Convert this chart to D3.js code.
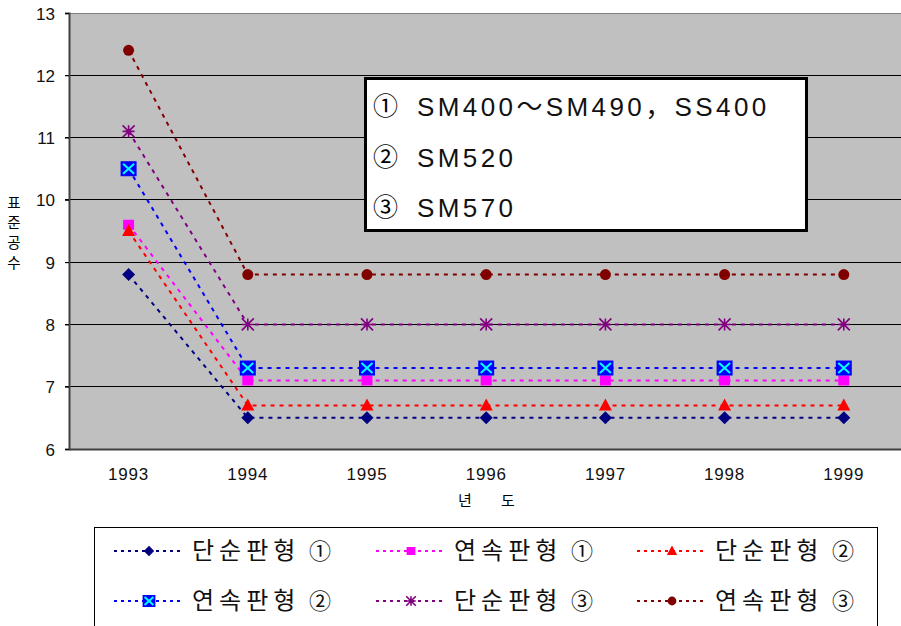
<!DOCTYPE html>
<html>
<head>
<meta charset="utf-8">
<script src="https://cdn.jsdelivr.net/npm/d3@7"></script>
<style>
  html, body { margin: 0; padding: 0; background: #fff; }
  svg { display: block; }
  text { font-family: "Liberation Sans", "Noto Sans CJK KR", sans-serif; }
  .kr { font-family: "Noto Sans CJK KR", sans-serif; }
</style>
</head>
<body>
<svg id="chart" width="901" height="626"></svg>
<script>
// Years on the horizontal axis
const years = ["1993", "1994", "1995", "1996", "1997", "1998", "1999"];
// Y axis tick values
const yTicks = [6, 7, 8, 9, 10, 11, 12, 13];

// Standard man-hours by plate type and steel grade
const seriesNames = ["단순판형", "연속판형", "단순판형", "연속판형", "단순판형", "연속판형"];
const seriesGrades = ["①", "①", "②", "②", "③", "③"];
const simple1 = [8.8, 6.5, 6.5, 6.5, 6.5, 6.5, 6.5];
const cont1   = [9.6, 7.1, 7.1, 7.1, 7.1, 7.1, 7.1];
const simple2 = [9.5, 6.7, 6.7, 6.7, 6.7, 6.7, 6.7];
const cont2   = [10.5, 7.3, 7.3, 7.3, 7.3, 7.3, 7.3];
const simple3 = [11.1, 8.0, 8.0, 8.0, 8.0, 8.0, 8.0];
const cont3   = [12.4, 8.8, 8.8, 8.8, 8.8, 8.8, 8.8];

// Steel grade notes
const gradeMarks = ["①", "②", "③"];
const gradeNotes = ["SM400～SM490，SS400", "SM520", "SM570"];

const seriesValues = [simple1, cont1, simple2, cont2, simple3, cont3];
const styles = [
  { color: "#000080", marker: "diamond" },
  { color: "#FF00FF", marker: "square" },
  { color: "#FF0000", marker: "triangle" },
  { color: "#0000FF", marker: "xsquare" },
  { color: "#800080", marker: "asterisk" },
  { color: "#800000", marker: "circle" }
];

const svg = d3.select("#chart");
const plot = { left: 69, top: 13, bottom: 449, band: 119.2 };
plot.right = plot.left + plot.band * years.length;

const x = d3.scaleBand().domain(years).range([plot.left, plot.right]).padding(0);
const cx = d => x(d) + x.bandwidth() / 2;
const y = d3.scaleLinear().domain([6, 13]).range([plot.bottom, plot.top]);

// Plot background
svg.append("rect")
  .attr("x", plot.left).attr("y", plot.top)
  .attr("width", 901 - plot.left).attr("height", plot.bottom - plot.top)
  .attr("fill", "#C0C0C0");

// Horizontal gridlines
svg.append("g").selectAll("line").data(yTicks.slice(1)).join("line")
  .attr("x1", plot.left - 4).attr("x2", 901)
  .attr("y1", d => y(d)).attr("y2", d => y(d))
  .attr("stroke", d => d === 13 ? "#808080" : "#000").attr("stroke-width", 1)
  .attr("shape-rendering", "crispEdges");

// Y axis
const yAxis = svg.append("g")
  .attr("transform", `translate(${plot.left},0)`)
  .call(d3.axisLeft(y).tickValues(yTicks).tickSize(4).tickPadding(10).tickFormat(d3.format("d")));
yAxis.select(".domain").attr("stroke", "#404040").attr("stroke-width", 2);
yAxis.selectAll(".tick line").attr("stroke", "#000");
yAxis.selectAll(".tick text").attr("font-size", 17).attr("fill", "#111")
  .attr("dy", "0.36em")
  .style("font-family", "'Liberation Sans', sans-serif");

// X axis
const xAxis = svg.append("g")
  .attr("transform", `translate(0,${plot.bottom})`)
  .call(d3.axisBottom(x).tickSize(0).tickPadding(0));
xAxis.select(".domain").attr("stroke", "#404040").attr("stroke-width", 2);
xAxis.selectAll(".tick text").attr("font-size", 17).attr("fill", "#111")
  .attr("y", 31).attr("dy", 0).attr("letter-spacing", 0.8)
  .style("font-family", "'Liberation Sans', sans-serif");

// Axis titles
[["년", 465], ["도", 508]].forEach(([ch, px]) => {
  svg.append("text").attr("class", "kr")
    .attr("x", px).attr("y", 506).attr("text-anchor", "middle")
    .attr("font-size", 15).attr("fill", "#000").text(ch);
});
const yTitle = svg.append("text").attr("class", "kr")
  .attr("font-size", 14.5).attr("fill", "#000").attr("text-anchor", "middle");
["표", "준", "공", "수"].forEach((ch, i) => {
  yTitle.append("tspan").attr("x", 14).attr("y", 208 + i * 20).text(ch);
});

// Marker drawing
function drawMarker(g, type, color, px, py, s) {
  const k = s || 1;
  if (type === "diamond") {
    g.append("path")
      .attr("d", `M${px},${py - 6.5 * k}L${px + 6.5 * k},${py}L${px},${py + 6.5 * k}L${px - 6.5 * k},${py}Z`)
      .attr("fill", color);
  } else if (type === "square") {
    g.append("rect").attr("x", px - 5.5 * k).attr("y", py - 5 * k)
      .attr("width", 11 * k).attr("height", 10 * k).attr("fill", color);
  } else if (type === "triangle") {
    g.append("path")
      .attr("d", `M${px},${py - 7 * k}L${px + 6.5 * k},${py + 5 * k}L${px - 6.5 * k},${py + 5 * k}Z`)
      .attr("fill", color);
  } else if (type === "xsquare") {
    g.append("rect").attr("x", px - 8 * k).attr("y", py - 7.5 * k)
      .attr("width", 16 * k).attr("height", 15 * k).attr("fill", color);
    g.append("path")
      .attr("d", `M${px - 5.5 * k},${py - 5 * k}L${px + 5.5 * k},${py + 5 * k}M${px + 5.5 * k},${py - 5 * k}L${px - 5.5 * k},${py + 5 * k}`)
      .attr("stroke", "#00FFFF").attr("stroke-width", 2);
  } else if (type === "asterisk") {
    const r = 6 * k;
    g.append("path")
      .attr("d", `M${px - r},${py - r}L${px + r},${py + r}M${px + r},${py - r}L${px - r},${py + r}M${px},${py - r}L${px},${py + r}M${px - r},${py}L${px + r},${py}`)
      .attr("stroke", color).attr("stroke-width", 1.6);
  } else if (type === "circle") {
    g.append("circle").attr("cx", px).attr("cy", py).attr("r", 5.5 * k).attr("fill", color);
  }
}

// Series lines and markers
const line = d3.line().x((d, i) => cx(years[i])).y(d => y(d));
seriesValues.forEach((vals, si) => {
  const st = styles[si];
  const g = svg.append("g");
  g.append("path").datum(vals).attr("d", line)
    .attr("fill", "none").attr("stroke", st.color)
    .attr("stroke-width", 2).attr("stroke-dasharray", "4,5");
  vals.forEach((v, i) => drawMarker(g, st.marker, st.color, cx(years[i]), y(v)));
});

// Grade notes box
const nb = svg.append("g");
nb.append("rect").attr("x", 365.5).attr("y", 78.5).attr("width", 441).attr("height", 152)
  .attr("fill", "#fff").attr("stroke", "#000").attr("stroke-width", 3);
gradeNotes.forEach((t, i) => {
  const by = 116 + i * 50.5;
  nb.append("text").attr("class", "kr")
    .attr("x", 373).attr("y", by - 1).attr("font-size", 25).attr("fill", "#000")
    .text(gradeMarks[i]);
  nb.append("text")
    .attr("x", 417).attr("y", by).attr("font-size", 26).attr("fill", "#111")
    .attr("letter-spacing", 3.4)
    .text(t);
});

// Legend
const lg = svg.append("g");
lg.append("rect").attr("x", 94.5).attr("y", 527.5).attr("width", 783).attr("height", 110)
  .attr("fill", "#fff").attr("stroke", "#000").attr("stroke-width", 1);
const colX = [114, 376, 637];
const rowY = [551, 601];
seriesNames.forEach((name, i) => {
  const lx = colX[i % 3], ly = rowY[Math.floor(i / 3)];
  const st = styles[i];
  lg.append("line").attr("x1", lx).attr("x2", lx + 68).attr("y1", ly).attr("y2", ly)
    .attr("stroke", st.color).attr("stroke-width", 2).attr("stroke-dasharray", "3,4");
  drawMarker(lg, st.marker, st.color, lx + 35, ly, 0.8);
  lg.append("text").attr("class", "kr")
    .attr("x", lx + 78).attr("y", ly + 8)
    .attr("font-size", 24).attr("fill", "#111").attr("letter-spacing", 5)
    .text(name);
  lg.append("text").attr("class", "kr")
    .attr("x", lx + 195).attr("y", ly + 8)
    .attr("font-size", 22).attr("fill", "#111")
    .text(seriesGrades[i]);
});
</script>
</body>
</html>
